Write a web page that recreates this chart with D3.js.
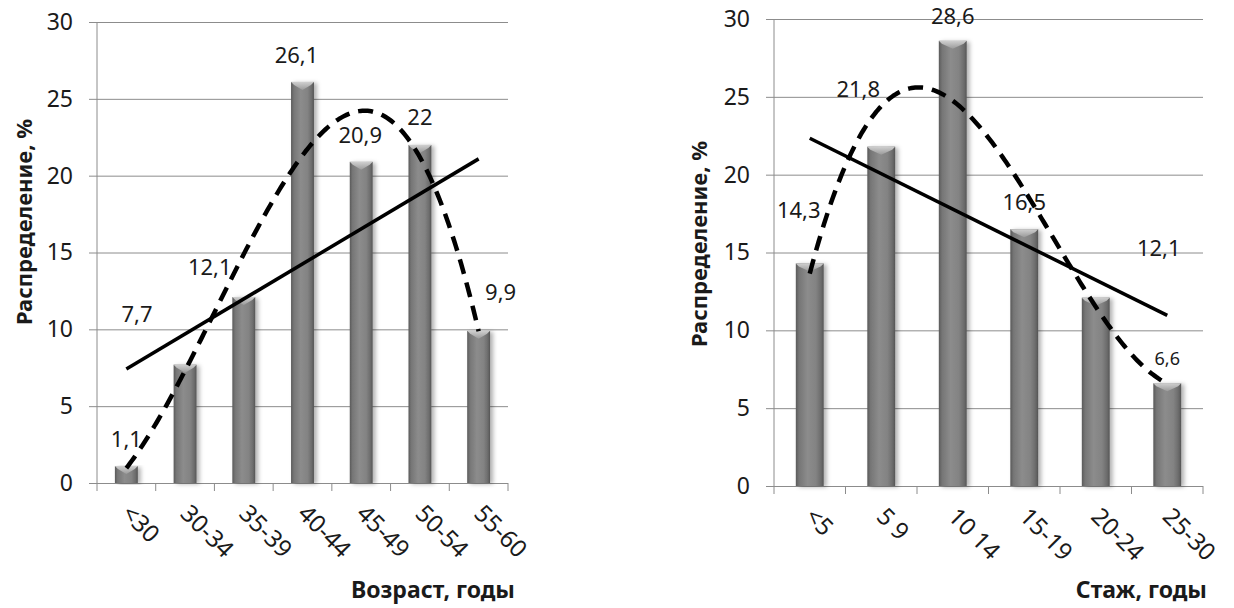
<!DOCTYPE html>
<html>
<head>
<meta charset="utf-8">
<script src="https://cdn.jsdelivr.net/npm/d3@7/dist/d3.min.js"></script>
<style>
  html, body { margin: 0; padding: 0; background: #fff; }
  svg { display: block; }
  text { font-family: "Noto Sans", "Open Sans", "DejaVu Sans", sans-serif; fill: #1a1a1a; }
</style>
</head>
<body>
<svg id="chart" width="1234" height="608"></svg>
<script>
// ---------- data ----------
const ageCategories = ["<30", "30-34", "35-39", "40-44", "45-49", "50-54", "55-60"];
const ageValues = [1.1, 7.7, 12.1, 26.1, 20.9, 22, 9.9];
const ageLabels = ["1,1", "7,7", "12,1", "26,1", "20,9", "22", "9,9"];

const tenureCategories = ["<5", "5 9", "10 14", "15-19", "20-24", "25-30"];
const tenureValues = [14.3, 21.8, 28.6, 16.5, 12.1, 6.6];
const tenureLabels = ["14,3", "21,8", "28,6", "16,5", "12,1", "6,6"];

const yTickValues = [0, 5, 10, 15, 20, 25, 30];
const yAxisTitle = "Распределение, %";
const ageAxisTitle = "Возраст, годы";
const tenureAxisTitle = "Стаж, годы";

// ---------- layout / style (not data) ----------
const ageLabelShift = [[0, 0], [-48, -24], [-34, -3], [-6, 0], [-1, 0], [0, -1], [22, -12]];
const tenureLabelShift = [[-11, -26], [-23, -31], [0, 2], [0, 0], [63, -23], [0, 1]];
const tenureLabelSize = [22, 22, 22, 22, 22, 18];
const ageLabelSize = [22, 22, 22, 22, 22, 22, 22];

const svg = d3.select("#chart");
const defs = svg.append("defs");

const barGrad = defs.append("linearGradient").attr("id", "barGrad")
  .attr("x1", "0%").attr("x2", "100%").attr("y1", "0%").attr("y2", "0%");
[[0, "#5a5a5a"], [0.12, "#767676"], [0.42, "#8c8c8c"], [0.72, "#838383"], [0.9, "#6c6c6c"], [1, "#545454"]]
  .forEach(([o, c]) => barGrad.append("stop").attr("offset", o).attr("stop-color", c));

const capGrad = defs.append("linearGradient").attr("id", "capGrad")
  .attr("x1", "0%").attr("x2", "0%").attr("y1", "0%").attr("y2", "100%");
[[0, "#d8d8d8"], [1, "#9c9c9c"]]
  .forEach(([o, c]) => capGrad.append("stop").attr("offset", o).attr("stop-color", c));

const shadow = defs.append("filter").attr("id", "barShadow")
  .attr("x", "-30%").attr("y", "-5%").attr("width", "170%").attr("height", "115%");
shadow.append("feDropShadow").attr("dx", 3).attr("dy", 1).attr("stdDeviation", 2.2)
  .attr("flood-color", "#000").attr("flood-opacity", 0.3);

function polyfit(xs, ys, deg) {
  const m = deg + 1;
  const A = Array.from({ length: m }, () => new Array(m + 1).fill(0));
  for (let r = 0; r < m; r++) {
    for (let c = 0; c < m; c++) A[r][c] = d3.sum(xs, x => Math.pow(x, r + c));
    A[r][m] = d3.sum(xs.map((x, i) => Math.pow(x, r) * ys[i]));
  }
  for (let i = 0; i < m; i++) {
    let p = i;
    for (let k = i + 1; k < m; k++) if (Math.abs(A[k][i]) > Math.abs(A[p][i])) p = k;
    [A[i], A[p]] = [A[p], A[i]];
    for (let k = i + 1; k < m; k++) {
      const f = A[k][i] / A[i][i];
      for (let c = i; c <= m; c++) A[k][c] -= f * A[i][c];
    }
  }
  const coef = new Array(m).fill(0);
  for (let i = m - 1; i >= 0; i--) {
    let s = A[i][m];
    for (let c = i + 1; c < m; c++) s -= A[i][c] * coef[c];
    coef[i] = s / A[i][i];
  }
  return x => coef.reduce((acc, a, k) => acc + a * Math.pow(x, k), 0);
}

function drawPanel(opt) {
  const { categories, values, labels, left, right, top, bottom, shifts, sizes } = opt;
  const g = svg.append("g");
  const n = categories.length;
  const x = d3.scaleBand().domain(categories).range([left, right]).padding(0);
  const xLin = d3.scaleLinear().domain([0.5, n + 0.5]).range([left, right]);
  const y = d3.scaleLinear().domain([0, 30]).range([bottom, top]);

  // gridlines + y axis
  const yAxis = d3.axisLeft(y).tickValues(yTickValues).tickSize(right - left + 8).tickPadding(16)
    .tickFormat(d3.format("d"));
  const ya = g.append("g").attr("transform", `translate(${right},0)`).call(yAxis);
  ya.select(".domain").remove();
  ya.selectAll(".tick line").attr("stroke", "#8c8c8c").attr("stroke-width", 1);
  ya.selectAll(".tick text").attr("font-size", 23).attr("fill", "#1a1a1a")
    .attr("font-family", '"Noto Sans", "Open Sans", sans-serif');
  g.append("line").attr("x1", left).attr("x2", left).attr("y1", top).attr("y2", bottom)
    .attr("stroke", "#8c8c8c");

  // x axis with boundary ticks
  g.append("line").attr("x1", left).attr("x2", right).attr("y1", bottom + 0.5).attr("y2", bottom + 0.5)
    .attr("stroke", "#8c8c8c");
  const bounds = d3.range(n + 1).map(i => left + i * x.step());
  g.selectAll(".xt").data(bounds).join("line")
    .attr("x1", d => d).attr("x2", d => d).attr("y1", bottom).attr("y2", bottom + 8)
    .attr("stroke", "#8c8c8c");

  // bars
  const bw = x.bandwidth() * 0.39;
  const bars = g.selectAll(".bar").data(values).join("g")
    .attr("transform", (d, i) => `translate(${x(categories[i]) + x.bandwidth() / 2},0)`);
  bars.append("rect").attr("x", -bw / 2).attr("width", bw)
    .attr("y", d => y(d)).attr("height", d => bottom - y(d))
    .attr("fill", "url(#barGrad)").attr("filter", "url(#barShadow)");
  bars.append("path")
    .attr("d", d => `M${-bw / 2},${y(d)} L${bw / 2},${y(d)} L${bw / 2 - 3},${y(d) + 3} L0,${y(d) + Math.min(8, bottom - y(d))} L${-bw / 2 + 3},${y(d) + 3} Z`)
    .attr("fill", "url(#capGrad)").attr("opacity", 0.9);

  // trend lines
  const xs = d3.range(1, n + 1);
  const lin = polyfit(xs, values, 1);
  const cub = polyfit(xs, values, 3);
  const samples = d3.range(0, 201).map(k => 1 + (n - 1) * k / 200);
  const line = d3.line().x(d => xLin(d[0])).y(d => y(d[1])).curve(d3.curveLinear);
  g.append("path").attr("d", line(samples.map(s => [s, cub(s)])))
    .attr("fill", "none").attr("stroke", "#000").attr("stroke-width", 4.5)
    .attr("stroke-dasharray", "15,9");
  g.append("path").attr("d", line([[1, lin(1)], [n, lin(n)]]))
    .attr("fill", "none").attr("stroke", "#000").attr("stroke-width", 3.5);

  // data labels
  g.selectAll(".dl").data(values).join("text")
    .attr("x", (d, i) => x(categories[i]) + x.bandwidth() / 2 + shifts[i][0])
    .attr("y", (d, i) => y(d) - 19 + shifts[i][1])
    .attr("text-anchor", "middle").attr("font-size", (d, i) => sizes[i])
    .text((d, i) => labels[i]);

  // rotated category labels
  g.selectAll(".xl").data(categories).join("text")
    .attr("transform", d => `translate(${x(d) + x.bandwidth() / 2 - 6},${bottom + 32}) rotate(45)`)
    .attr("text-anchor", "start").attr("font-size", 24)
    .text(d => d);

  return { x, y };
}

drawPanel({ categories: ageCategories, values: ageValues, labels: ageLabels,
  left: 97, right: 508, top: 22, bottom: 483, shifts: ageLabelShift, sizes: ageLabelSize });
drawPanel({ categories: tenureCategories, values: tenureValues, labels: tenureLabels,
  left: 774, right: 1203, top: 19, bottom: 486, shifts: tenureLabelShift, sizes: tenureLabelSize });

// axis titles
svg.append("text").attr("transform", "translate(32,222) rotate(-90)")
  .attr("text-anchor", "middle").attr("font-size", 22).attr("font-weight", "bold").text(yAxisTitle);
svg.append("text").attr("transform", "translate(707,244) rotate(-90)")
  .attr("text-anchor", "middle").attr("font-size", 22).attr("font-weight", "bold").text(yAxisTitle);
svg.append("text").attr("x", 515).attr("y", 598)
  .attr("text-anchor", "end").attr("font-size", 23).attr("font-weight", "bold").text(ageAxisTitle);
svg.append("text").attr("x", 1207).attr("y", 598)
  .attr("text-anchor", "end").attr("font-size", 23).attr("font-weight", "bold").text(tenureAxisTitle);
</script>
</body>
</html>
